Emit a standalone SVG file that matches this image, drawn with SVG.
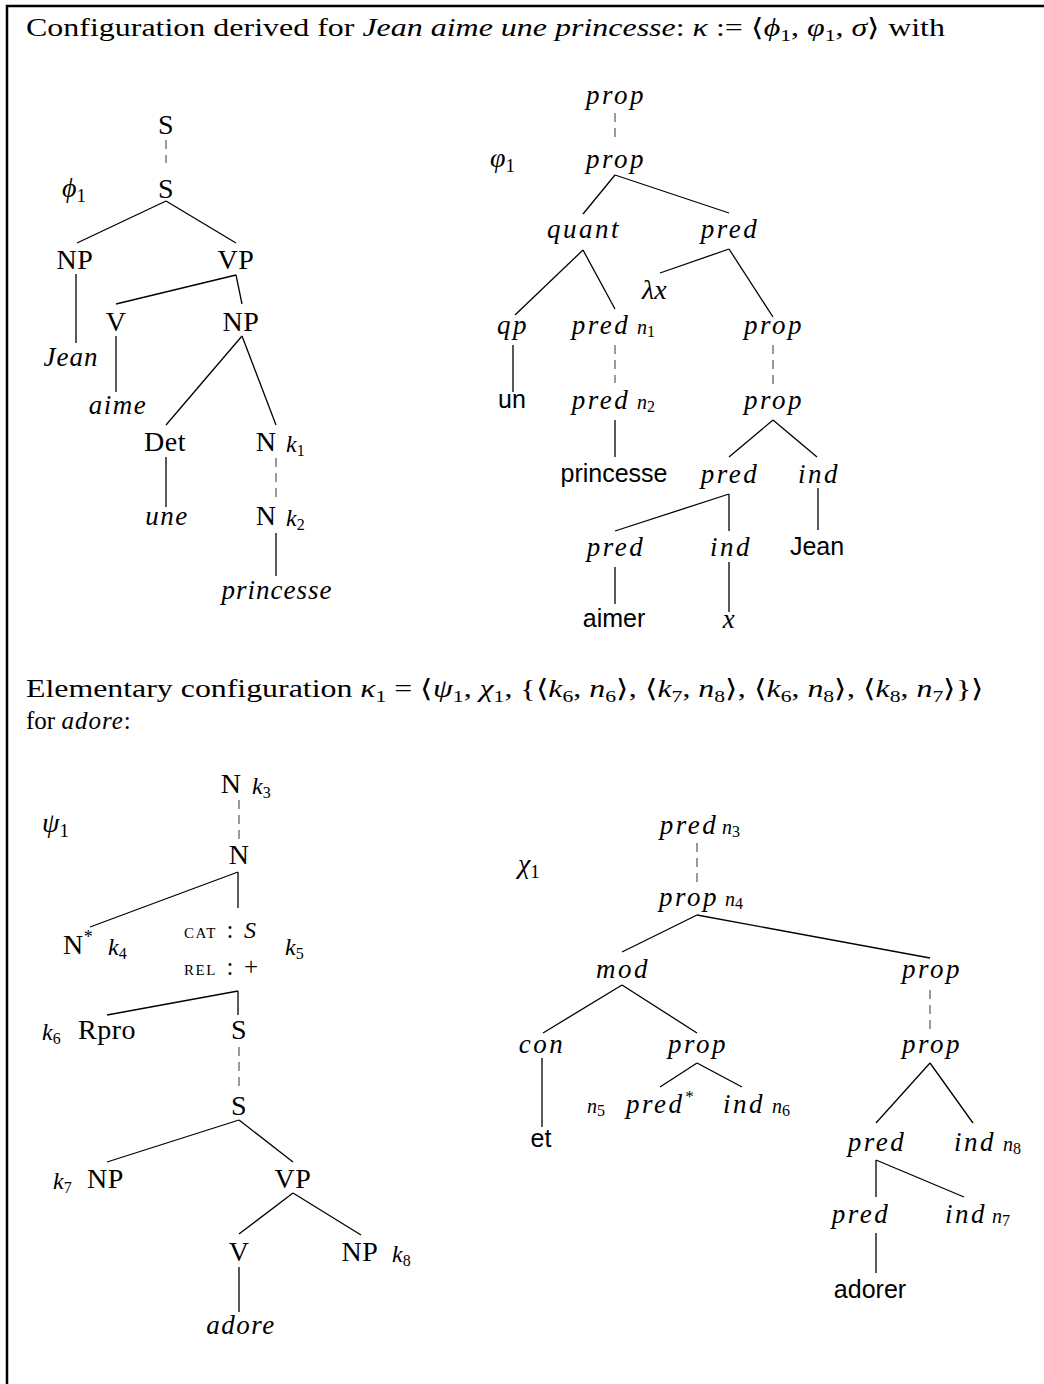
<svg xmlns="http://www.w3.org/2000/svg" width="1044" height="1384" viewBox="0 0 1044 1384">
<style>
text{fill:#000}
.r{font-family:"Liberation Serif",serif;font-size:28px;letter-spacing:0.5px;text-anchor:middle}
.i{font-family:"Liberation Serif",serif;font-style:italic;font-size:27px;letter-spacing:2.5px;text-anchor:middle}
.s{font-family:"Liberation Sans",sans-serif;font-size:25px;text-anchor:middle}
.k{font-family:"Liberation Serif",serif;font-style:italic;font-size:24px}
.n{font-family:"Liberation Serif",serif;font-style:italic;font-size:20px}
.g{font-family:"Liberation Serif",serif;font-style:italic;font-size:28px}
.sc{font-family:"Liberation Serif",serif;font-size:15px;letter-spacing:1.5px}
.t{font-family:"Liberation Serif",serif;font-size:25px}
.sub{font-style:normal;font-size:16px}
.g .sub{font-size:19px}
.ln line{stroke:#000;stroke-width:1.3}
.ln line.d{stroke:#666;stroke-dasharray:9 6}
</style>
<path d="M7 1384 V6 H1044" fill="none" stroke="#000" stroke-width="2.5"/>
<g id="header">
<text class="t" x="26" y="36" textLength="919" lengthAdjust="spacingAndGlyphs">Configuration derived for <tspan font-style="italic">Jean aime une princesse</tspan>: <tspan font-style="italic">κ</tspan> := ⟨<tspan font-style="italic">ϕ</tspan><tspan font-size="17" dy="5">1</tspan><tspan dy="-5">, </tspan><tspan font-style="italic">φ</tspan><tspan font-size="17" dy="5">1</tspan><tspan dy="-5">, </tspan><tspan font-style="italic">σ</tspan>⟩ with</text>
<text class="t" x="26" y="697" textLength="958" lengthAdjust="spacingAndGlyphs">Elementary configuration <tspan font-style="italic">κ</tspan><tspan font-size="17" dy="5">1</tspan><tspan dy="-5"> = ⟨</tspan><tspan font-style="italic">ψ</tspan><tspan font-size="17" dy="5">1</tspan><tspan dy="-5">, </tspan><tspan font-style="italic">χ</tspan><tspan font-size="17" dy="5">1</tspan><tspan dy="-5">, {⟨</tspan><tspan font-style="italic">k</tspan><tspan font-size="17" dy="5">6</tspan><tspan dy="-5">, </tspan><tspan font-style="italic">n</tspan><tspan font-size="17" dy="5">6</tspan><tspan dy="-5">⟩, ⟨</tspan><tspan font-style="italic">k</tspan><tspan font-size="17" dy="5">7</tspan><tspan dy="-5">, </tspan><tspan font-style="italic">n</tspan><tspan font-size="17" dy="5">8</tspan><tspan dy="-5">⟩, ⟨</tspan><tspan font-style="italic">k</tspan><tspan font-size="17" dy="5">6</tspan><tspan dy="-5">, </tspan><tspan font-style="italic">n</tspan><tspan font-size="17" dy="5">8</tspan><tspan dy="-5">⟩, ⟨</tspan><tspan font-style="italic">k</tspan><tspan font-size="17" dy="5">8</tspan><tspan dy="-5">, </tspan><tspan font-style="italic">n</tspan><tspan font-size="17" dy="5">7</tspan><tspan dy="-5">⟩}⟩</tspan></text>
<text class="t" x="26" y="729">for <tspan font-style="italic" letter-spacing="1">adore</tspan>:</text>
</g>
<g class="ln" id="connectors">
<line class="d" x1="166" y1="140" x2="166" y2="163"/>
<line x1="166" y1="201" x2="77" y2="243"/><line x1="166" y1="201" x2="236" y2="243"/>
<line x1="76" y1="274" x2="76" y2="343"/>
<line x1="236" y1="275" x2="116" y2="304"/><line x1="236" y1="275" x2="242" y2="304"/>
<line x1="116" y1="336" x2="116" y2="392"/>
<line x1="242" y1="336" x2="166" y2="425"/><line x1="242" y1="336" x2="276" y2="425"/>
<line x1="166" y1="457" x2="166" y2="507"/>
<line class="d" x1="276" y1="458" x2="276" y2="500"/>
<line x1="276" y1="533" x2="276" y2="576"/>
<line class="d" x1="615" y1="113" x2="615" y2="140"/>
<line x1="615" y1="175" x2="583" y2="214"/><line x1="615" y1="175" x2="729" y2="213"/>
<line x1="583" y1="250" x2="515" y2="315"/><line x1="583" y1="250" x2="615" y2="309"/>
<line x1="729" y1="249" x2="660" y2="273"/><line x1="729" y1="249" x2="773" y2="317"/>
<line x1="513" y1="345" x2="513" y2="392"/>
<line class="d" x1="615" y1="345" x2="615" y2="383"/>
<line class="d" x1="773" y1="345" x2="773" y2="385"/>
<line x1="615" y1="420" x2="615" y2="457"/>
<line x1="773" y1="420" x2="729" y2="457"/><line x1="773" y1="420" x2="817" y2="457"/>
<line x1="729" y1="494" x2="615" y2="531"/><line x1="729" y1="494" x2="729" y2="531"/>
<line x1="818" y1="488" x2="818" y2="530"/>
<line x1="615" y1="567" x2="615" y2="604"/><line x1="729" y1="562" x2="729" y2="612"/>
<line class="d" x1="239" y1="800" x2="239" y2="842"/>
<line x1="238" y1="872" x2="90" y2="927"/><line x1="238" y1="872" x2="238" y2="908"/>
<line x1="238" y1="991" x2="107" y2="1015"/><line x1="238" y1="991" x2="238" y2="1015"/>
<line class="d" x1="239" y1="1047" x2="239" y2="1087"/>
<line x1="239" y1="1120" x2="107" y2="1162"/><line x1="239" y1="1120" x2="293" y2="1162"/>
<line x1="293" y1="1193" x2="239" y2="1234"/><line x1="293" y1="1193" x2="361" y2="1235"/>
<line x1="239" y1="1267" x2="239" y2="1312"/>
<line class="d" x1="697" y1="843" x2="697" y2="884"/>
<line x1="697" y1="915" x2="622" y2="952"/><line x1="697" y1="915" x2="930" y2="958"/>
<line class="d" x1="930" y1="990" x2="930" y2="1030"/>
<line x1="622" y1="985" x2="543" y2="1033"/><line x1="622" y1="985" x2="697" y2="1033"/>
<line x1="697" y1="1063" x2="660" y2="1087"/><line x1="697" y1="1063" x2="742" y2="1087"/>
<line x1="542" y1="1058" x2="542" y2="1127"/>
<line x1="930" y1="1063" x2="876" y2="1123"/><line x1="930" y1="1063" x2="973" y2="1123"/>
<line x1="876" y1="1160" x2="876" y2="1197"/><line x1="876" y1="1160" x2="964" y2="1197"/>
<line x1="876" y1="1233" x2="876" y2="1273"/>
</g>
<g id="phi1">
<g id="p-label"><text class="g" x="62" y="197">ϕ<tspan class="sub" dy="5">1</tspan></text></g>
<g id="p-S0"><text class="r" x="166" y="134">S</text></g>
<g id="p-S"><text class="r" x="166" y="198">S</text></g>
<g id="p-NP1"><text class="r" x="75" y="269">NP</text></g>
<g id="p-VP"><text class="r" x="236" y="269">VP</text></g>
<g id="p-Jean"><text class="i" x="71" y="366" style="letter-spacing:1px">Jean</text></g>
<g id="p-V"><text class="r" x="116" y="331">V</text></g>
<g id="p-NP2"><text class="r" x="241" y="331">NP</text></g>
<g id="p-aime"><text class="i" x="118" y="414" style="letter-spacing:1.5px">aime</text></g>
<g id="p-Det"><text class="r" x="165" y="451">Det</text></g>
<g id="p-N1"><text class="r" x="266" y="451">N</text><text class="k" x="286" y="452">k<tspan class="sub" dy="4">1</tspan></text></g>
<g id="p-une"><text class="i" x="167" y="525" style="letter-spacing:1.5px">une</text></g>
<g id="p-N2"><text class="r" x="266" y="525">N</text><text class="k" x="286" y="526">k<tspan class="sub" dy="4">2</tspan></text></g>
<g id="p-princesse"><text class="i" x="277" y="599" style="letter-spacing:1px">princesse</text></g>
</g>
<g id="varphi1">
<g id="v-label"><text class="g" x="490" y="167">φ<tspan class="sub" dy="5">1</tspan></text></g>
<g id="v-prop0"><text class="i" x="616" y="104">prop</text></g>
<g id="v-prop"><text class="i" x="616" y="168">prop</text></g>
<g id="v-quant"><text class="i" x="584" y="238">quant</text></g>
<g id="v-pred"><text class="i" x="730" y="238">pred</text></g>
<g id="v-lx"><text class="g" x="642" y="299">λx</text></g>
<g id="v-qp"><text class="i" x="513" y="334">qp</text></g>
<g id="v-pred1"><text class="i" x="601" y="334">pred</text><text class="n" x="637" y="334">n<tspan class="sub" font-size="14" dy="3">1</tspan></text></g>
<g id="v-prop1"><text class="i" x="774" y="334">prop</text></g>
<g id="v-un"><text class="s" x="512" y="408">un</text></g>
<g id="v-pred2"><text class="i" x="601" y="409">pred</text><text class="n" x="637" y="409">n<tspan class="sub" font-size="14" dy="3">2</tspan></text></g>
<g id="v-prop2"><text class="i" x="774" y="409">prop</text></g>
<g id="v-princesse"><text class="s" x="614" y="482">princesse</text></g>
<g id="v-pred3"><text class="i" x="730" y="483">pred</text></g>
<g id="v-ind1"><text class="i" x="819" y="483">ind</text></g>
<g id="v-pred4"><text class="i" x="616" y="556">pred</text></g>
<g id="v-ind2"><text class="i" x="731" y="556">ind</text></g>
<g id="v-Jean"><text class="s" x="817" y="555">Jean</text></g>
<g id="v-aimer"><text class="s" x="614" y="627">aimer</text></g>
<g id="v-x"><text class="i" x="730" y="628">x</text></g>
</g>
<g id="psi1">
<g id="s-label"><text class="g" x="42" y="832">ψ<tspan class="sub" dy="5">1</tspan></text></g>
<g id="s-N3"><text class="r" x="231" y="793">N</text><text class="k" x="252" y="794">k<tspan class="sub" dy="4">3</tspan></text></g>
<g id="s-N"><text class="r" x="239" y="864">N</text></g>
<g id="s-Nstar"><text class="r" x="63" y="954" style="text-anchor:start">N<tspan font-size="18" dy="-11">*</tspan></text><text class="k" x="108" y="955">k<tspan class="sub" dy="4">4</tspan></text></g>
<g id="s-avm"><text class="sc" x="184" y="938">CAT</text><text class="t" x="230" y="938" text-anchor="middle">:</text><text class="k" x="244" y="938">S</text>
<text class="sc" x="184" y="975">REL</text><text class="t" x="230" y="975" text-anchor="middle">:</text><text class="t" x="244" y="975">+</text>
<text class="k" x="285" y="955">k<tspan class="sub" dy="4">5</tspan></text></g>
<g id="s-Rpro"><text class="k" x="42" y="1040">k<tspan class="sub" dy="4">6</tspan></text><text class="r" x="78" y="1039" style="text-anchor:start">Rpro</text></g>
<g id="s-S1"><text class="r" x="239" y="1039">S</text></g>
<g id="s-S2"><text class="r" x="239" y="1115">S</text></g>
<g id="s-NP1"><text class="k" x="53" y="1189">k<tspan class="sub" dy="4">7</tspan></text><text class="r" x="87" y="1188" style="text-anchor:start">NP</text></g>
<g id="s-VP"><text class="r" x="293" y="1188">VP</text></g>
<g id="s-V"><text class="r" x="239" y="1261">V</text></g>
<g id="s-NP2"><text class="r" x="360" y="1261">NP</text><text class="k" x="392" y="1262">k<tspan class="sub" dy="4">8</tspan></text></g>
<g id="s-adore"><text class="i" x="241" y="1334" style="letter-spacing:1.5px">adore</text></g>
</g>
<g id="chi1">
<g id="c-label"><text class="g" x="518" y="873">χ<tspan class="sub" dy="5">1</tspan></text></g>
<g id="c-pred0"><text class="i" x="689" y="834">pred</text><text class="n" x="722" y="834">n<tspan class="sub" font-size="14" dy="3">3</tspan></text></g>
<g id="c-prop0"><text class="i" x="689" y="906">prop</text><text class="n" x="725" y="906">n<tspan class="sub" font-size="14" dy="3">4</tspan></text></g>
<g id="c-mod"><text class="i" x="623" y="978">mod</text></g>
<g id="c-prop1"><text class="i" x="932" y="978">prop</text></g>
<g id="c-con"><text class="i" x="542" y="1053">con</text></g>
<g id="c-prop2"><text class="i" x="698" y="1053">prop</text></g>
<g id="c-prop3"><text class="i" x="932" y="1053">prop</text></g>
<g id="c-predstar"><text class="n" x="587" y="1113">n<tspan class="sub" font-size="14" dy="3">5</tspan></text><text class="i" x="626" y="1113" style="text-anchor:start">pred<tspan font-size="17" dy="-11" letter-spacing="0">*</tspan></text></g>
<g id="c-ind6"><text class="i" x="744" y="1113">ind</text><text class="n" x="772" y="1113">n<tspan class="sub" font-size="14" dy="3">6</tspan></text></g>
<g id="c-et"><text class="s" x="541" y="1147">et</text></g>
<g id="c-pred1"><text class="i" x="877" y="1151">pred</text></g>
<g id="c-ind8"><text class="i" x="975" y="1151">ind</text><text class="n" x="1003" y="1151">n<tspan class="sub" font-size="14" dy="3">8</tspan></text></g>
<g id="c-pred2"><text class="i" x="861" y="1223">pred</text></g>
<g id="c-ind7"><text class="i" x="966" y="1223">ind</text><text class="n" x="992" y="1223">n<tspan class="sub" font-size="14" dy="3">7</tspan></text></g>
<g id="c-adorer"><text class="s" x="870" y="1298">adorer</text></g>
</g>
</svg>
